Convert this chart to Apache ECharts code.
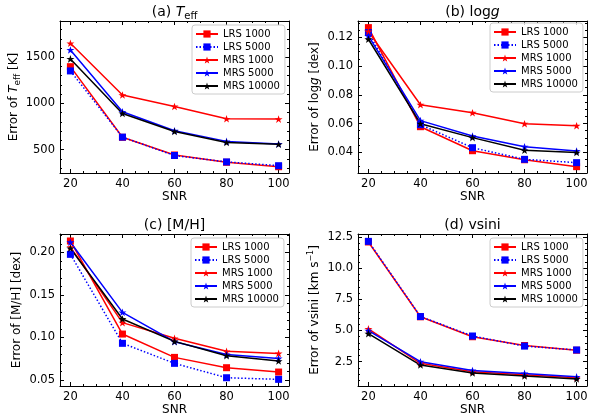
<!DOCTYPE html>
<html>
<head>
<meta charset="utf-8">
<script src="https://cdn.jsdelivr.net/npm/echarts@6/dist/echarts.min.js"></script>
<style>
html, body { margin: 0; padding: 0; background: #fff; }
#main { width: 600px; height: 420px; }
</style>
</head>
<body>
<div id="main"></div>
<script>
// data
var snr = [20, 40, 60, 80, 100];
var seriesNames = ['LRS 1000', 'LRS 5000', 'MRS 1000', 'MRS 5000', 'MRS 10000'];

var teffLrs1000  = [1398, 634, 443, 364, 316];
var teffLrs5000  = [1352, 636, 437, 368, 327];
var teffMrs1000  = [1651, 1091, 968, 834, 831];
var teffMrs5000  = [1579, 910, 705, 590, 562];
var teffMrs10000 = [1482, 892, 697, 578, 558];

var loggLrs1000  = [0.1267, 0.0578, 0.0411, 0.0348, 0.0300];
var loggLrs5000  = [0.1232, 0.0592, 0.0432, 0.0351, 0.0328];
var loggMrs1000  = [0.1240, 0.0731, 0.0675, 0.0599, 0.0585];
var loggMrs5000  = [0.1210, 0.0620, 0.0513, 0.0439, 0.0409];
var loggMrs10000 = [0.1186, 0.0599, 0.0502, 0.0414, 0.0398];

var mhLrs1000  = [0.2133, 0.1040, 0.0766, 0.0645, 0.0594];
var mhLrs5000  = [0.1976, 0.0931, 0.0696, 0.0527, 0.0508];
var mhMrs1000  = [0.2060, 0.1174, 0.0990, 0.0837, 0.0813];
var mhMrs5000  = [0.2118, 0.1295, 0.0950, 0.0800, 0.0754];
var mhMrs10000 = [0.2047, 0.1217, 0.0954, 0.0786, 0.0723];

var vsiniLrs1000  = [12.10, 6.10, 4.50, 3.80, 3.42];
var vsiniLrs5000  = [12.15, 6.12, 4.56, 3.75, 3.44];
var vsiniMrs1000  = [5.13, 2.37, 1.70, 1.45, 1.21];
var vsiniMrs5000  = [4.99, 2.50, 1.80, 1.56, 1.29];
var vsiniMrs10000 = [4.75, 2.23, 1.59, 1.35, 1.11];

var xTicks = [20, 40, 60, 80, 100];
var teffTicks  = [500, 1000, 1500];
var loggTicks  = [0.04, 0.06, 0.08, 0.10, 0.12];
var mhTicks    = [0.05, 0.10, 0.15, 0.20];
var vsiniTicks = [2.5, 5.0, 7.5, 10.0, 12.5];

var font = 'DejaVu Sans';
var starPath = 'path://M50,0 L61.8,35.4 L99,35.4 L69.1,57.3 L80.4,92.7 L50,70.8 L19.6,92.7 L30.9,57.3 L1,35.4 L38.2,35.4 Z';
var looks = [
    {color: '#ff0000', symbol: 'rect', size: 7, type: 'solid'},
    {color: '#0000ff', symbol: 'rect', size: 7, type: [1.5, 2]},
    {color: '#ff0000', symbol: starPath, size: 8, type: 'solid'},
    {color: '#0000ff', symbol: starPath, size: 8, type: 'solid'},
    {color: '#000000', symbol: starPath, size: 8, type: 'solid'}
];

var richText = {
    n: {fontSize: 12, fontFamily: font, color: '#000', lineHeight: 16, verticalAlign: 'middle'},
    i: {fontSize: 12, fontFamily: font, color: '#000', fontStyle: 'italic', lineHeight: 16, verticalAlign: 'middle'},
    s: {fontSize: 9, fontFamily: font, color: '#000', lineHeight: 9, verticalAlign: 'bottom'},
    p: {fontSize: 8, fontFamily: font, color: '#000', lineHeight: 8, verticalAlign: 'top'}
};
var titleRich = {
    n: {fontSize: 14, fontWeight: 'normal', fontFamily: font, color: '#000', lineHeight: 18, verticalAlign: 'middle'},
    i: {fontSize: 14, fontWeight: 'normal', fontFamily: font, color: '#000', fontStyle: 'italic', lineHeight: 18, verticalAlign: 'middle'},
    s: {fontSize: 10, fontWeight: 'normal', fontFamily: font, color: '#000', lineHeight: 10, verticalAlign: 'bottom'}
};

var panels = [
    {title: '{n|(a) }{i|T}{s|eff}', yName: '{n|Error of }{i|T}{s|eff}{n| [K]}',
     values: [teffLrs1000, teffLrs5000, teffMrs1000, teffMrs5000, teffMrs10000],
     yTicks: teffTicks, minorStep: 100, digits: 0, yMin: 248, yMax: 1892,
     left: 60, top: 21, legendLeft: 192, legendTop: 25, nameGap: 37},
    {title: '{n|(b) log}{i|g}', yName: '{n|Error of log}{i|g}{n| [dex]}',
     values: [loggLrs1000, loggLrs5000, loggMrs1000, loggMrs5000, loggMrs10000],
     yTicks: loggTicks, minorStep: 0.005, digits: 2, yMin: 0.0256, yMax: 0.1313,
     left: 358, top: 21, legendLeft: 490, legendTop: 23, nameGap: 35},
    {title: '{n|(c) [M/H]}', yName: '{n|Error of [M/H] [dex]}',
     values: [mhLrs1000, mhLrs5000, mhMrs1000, mhMrs5000, mhMrs10000],
     yTicks: mhTicks, minorStep: 0.01, digits: 2, yMin: 0.043, yMax: 0.2215,
     left: 60, top: 234, legendLeft: 191, legendTop: 238, nameGap: 35},
    {title: '{n|(d) vsini}', yName: '{n|Error of vsini [km s}{p|−1}{n|]}',
     values: [vsiniLrs1000, vsiniLrs5000, vsiniMrs1000, vsiniMrs5000, vsiniMrs10000],
     yTicks: vsiniTicks, minorStep: 0.5, digits: 1, yMin: 0.55, yMax: 12.74,
     left: 358, top: 234, legendLeft: 490, legendTop: 238, nameGap: 35}
];
var gridW = 229, gridH = 152;

function minorTicks(lo, hi, step, majors) {
    var out = [];
    for (var k = Math.ceil(lo / step - 1e-9); k * step <= hi + 1e-9; k++) {
        var v = +(k * step).toFixed(6);
        if (majors.indexOf(v) < 0) out.push(v);
    }
    return out;
}

var frame = {show: true, onZero: false, lineStyle: {color: '#000', width: 1}};

var option = {
    animation: false,
    backgroundColor: '#fff',
    title: [], grid: [], xAxis: [], yAxis: [], legend: [], series: []
};

panels.forEach(function (p, g) {
    option.grid.push({left: p.left, top: p.top, width: gridW, height: gridH, containLabel: false});
    option.title.push({
        text: p.title, left: p.left + gridW / 2, top: p.top - 18, padding: 0,
        textAlign: 'center', textStyle: {fontWeight: 'normal', rich: titleRich}
    });

    var xMinor = minorTicks(16, 104, 5, xTicks);
    var yMinor = minorTicks(p.yMin, p.yMax, p.minorStep, p.yTicks);
    ['bottom', 'top', 'bottom', 'top'].forEach(function (pos, k) {
        var major = k < 2;
        option.xAxis.push({
            gridIndex: g, type: 'value', position: pos, min: 16, max: 104,
            splitLine: {show: false},
            axisLine: major ? frame : {show: false},
            axisTick: {show: true, inside: true, length: major ? 4 : 2,
                       customValues: major ? xTicks : xMinor,
                       lineStyle: {color: '#000', width: 1}},
            axisLabel: {show: k === 0, customValues: xTicks, margin: 5,
                        fontSize: 11.5, fontFamily: font, color: '#000'},
            name: k === 0 ? 'SNR' : '', nameLocation: 'middle', nameGap: 16,
            nameTextStyle: {fontSize: 12, fontFamily: font, color: '#000'}
        });
    });
    ['left', 'right', 'left', 'right'].forEach(function (pos, k) {
        var major = k < 2;
        option.yAxis.push({
            gridIndex: g, type: 'value', position: pos, min: p.yMin, max: p.yMax,
            splitLine: {show: false},
            axisLine: major ? frame : {show: false},
            axisTick: {show: true, inside: true, length: major ? 4 : 2,
                       customValues: major ? p.yTicks : yMinor,
                       lineStyle: {color: '#000', width: 1}},
            axisLabel: {show: k === 0, customValues: p.yTicks, margin: 5,
                        fontSize: 11.5, fontFamily: font, color: '#000',
                        formatter: function (v) { return v.toFixed(p.digits); }},
            name: k === 0 ? p.yName : '', nameLocation: 'middle', nameGap: p.nameGap,
            nameTextStyle: {rich: richText}
        });
    });

    option.legend.push({
        orient: 'vertical', left: p.legendLeft, top: p.legendTop,
        data: seriesNames, selectedMode: false,
        itemWidth: 22, itemHeight: 9, itemGap: 3, padding: [4, 5, 3, 3],
        backgroundColor: 'rgba(255,255,255,0.8)', borderColor: '#cccccc',
        borderWidth: 1, borderRadius: 3,
        textStyle: {fontSize: 10, fontFamily: font, color: '#000'}
    });

    p.values.forEach(function (vals, s) {
        var look = looks[s];
        option.series.push({
            type: 'line', name: seriesNames[s],
            xAxisIndex: g * 4, yAxisIndex: g * 4,
            data: snr.map(function (x, k) { return [x, vals[k]]; }),
            symbol: look.symbol, symbolSize: look.size, symbolKeepAspect: true,
            showSymbol: true,
            lineStyle: {color: look.color, width: 1.5, type: look.type},
            itemStyle: {color: look.color},
            emphasis: {disabled: true}
        });
    });
});

var myChart = echarts.init(document.getElementById('main'));
myChart.setOption(option);
</script>
</body>
</html>
